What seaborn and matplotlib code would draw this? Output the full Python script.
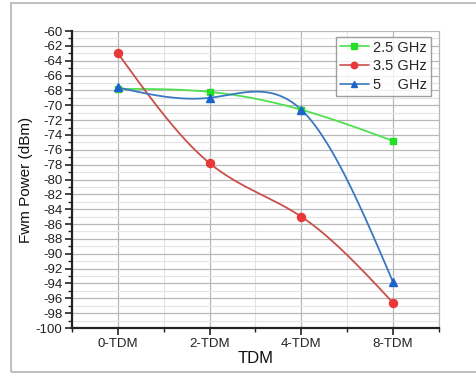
import numpy as np
import matplotlib
matplotlib.use("Agg")
import matplotlib.pyplot as plt
from matplotlib.lines import Line2D
from matplotlib.patches import Rectangle
from matplotlib.ticker import MultipleLocator
import seaborn as sns

# Data
categories = ["0-TDM", "2-TDM", "4-TDM", "8-TDM"]
series_names = ["2.5 GHz", "3.5 GHz", "5    GHz"]
power_25 = [-67.8, -68.2, -70.6, -74.8]
power_35 = [-63.0, -77.8, -85.0, -96.6]
power_5 = [-67.6, -69.0, -70.6, -93.8]

sns.set_style("white")
plt.rcParams["font.family"] = ["Liberation Sans", "DejaVu Sans"]
plt.rcParams["axes.unicode_minus"] = False


def natural_spline(y, n=60):
    """Natural cubic spline through equally spaced points at x = 0..len(y)-1."""
    y = np.asarray(y, dtype=float)
    k = len(y)
    A = np.zeros((k, k))
    b = np.zeros(k)
    A[0, 0] = A[-1, -1] = 1.0
    for i in range(1, k - 1):
        A[i, i - 1], A[i, i], A[i, i + 1] = 1.0, 4.0, 1.0
        b[i] = 6.0 * (y[i - 1] - 2 * y[i] + y[i + 1])
    M = np.linalg.solve(A, b)
    xs, ys = [], []
    for i in range(k - 1):
        t = np.linspace(0, 1, n, endpoint=(i == k - 2))
        seg = ((1 - t) * y[i] + t * y[i + 1]
               + ((1 - t) ** 3 - (1 - t)) * M[i] / 6.0
               + (t ** 3 - t) * M[i + 1] / 6.0)
        xs.append(i + t)
        ys.append(seg)
    return np.concatenate(xs), np.concatenate(ys)


fig = plt.figure(figsize=(4.77, 3.75), dpi=100)
ax = fig.add_axes([0.151, 0.1253, 0.769, 0.7920])

# outer frame around the chart
fig.patches.append(Rectangle((11 / 477, 3 / 375), 1.2, 369 / 375,
                             transform=fig.transFigure, fill=False,
                             edgecolor="#b4b4b4", linewidth=1.2, zorder=0))

x = np.arange(len(categories))
styles = [
    (power_25, "#4fe04f", "#22e022", "s", 5.0),
    (power_35, "#c8504a", "#e83838", "o", 5.8),
    (power_5, "#3a78c0", "#1c64cc", "^", 6.2),
]

handles = []
for (vals, lc, mc, mk, ms), name in zip(styles, series_names):
    xs, ys = natural_spline(vals)
    sns.lineplot(x=xs, y=ys, ax=ax, color=lc, linewidth=1.3, sort=False,
                 estimator=None, zorder=3)
    ax.plot(x, vals, linestyle="none", marker=mk, markersize=ms,
            color=mc, markeredgecolor=mc, zorder=4)
    handles.append(Line2D([0], [0], color=lc, linewidth=1.2, marker=mk,
                          markersize=ms * 0.8, markerfacecolor=mc,
                          markeredgecolor=mc, label=name))

ax.set_xlim(-0.5, 3.5)
ax.set_ylim(-100, -60)
ax.set_xticks(x)
ax.set_xticklabels(categories)
ax.xaxis.set_minor_locator(MultipleLocator(0.5))
ax.set_yticks(np.arange(-100, -59, 2))
ax.yaxis.set_minor_locator(MultipleLocator(1))

ax.grid(which="major", color="#b8b8b8", linewidth=0.9)
ax.grid(which="minor", color="#e4e4e4", linewidth=0.8)
ax.set_axisbelow(True)

for side in ["left", "bottom"]:
    ax.spines[side].set_color("#222222")
    ax.spines[side].set_linewidth(1.6)
ax.spines["top"].set_visible(False)
ax.spines["right"].set_color("#b8b8b8")
ax.spines["right"].set_linewidth(0.9)

ax.tick_params(axis="both", which="major", direction="out", length=5,
               width=1.2, color="#222222", labelsize=9.5, pad=2,
               labelcolor="#222222", bottom=True, left=True)
ax.tick_params(axis="both", which="minor", direction="out", length=3,
               width=1.0, color="#222222", bottom=True, left=True)

ax.set_xlabel("TDM", fontsize=12, labelpad=1, color="#111111")
ax.set_ylabel("Fwm Power (dBm)", fontsize=11, labelpad=2, color="#111111")

leg = ax.legend(handles=handles, loc="upper right", fontsize=10.5,
                frameon=True, fancybox=False, edgecolor="#888888",
                handlelength=2.0, handletextpad=0.3, labelspacing=0.32,
                borderpad=0.25, borderaxespad=0.0,
                bbox_to_anchor=(0.978, 0.98))
leg.get_frame().set_linewidth(1.0)

fig.savefig("out.png", dpi=100, facecolor="white")
